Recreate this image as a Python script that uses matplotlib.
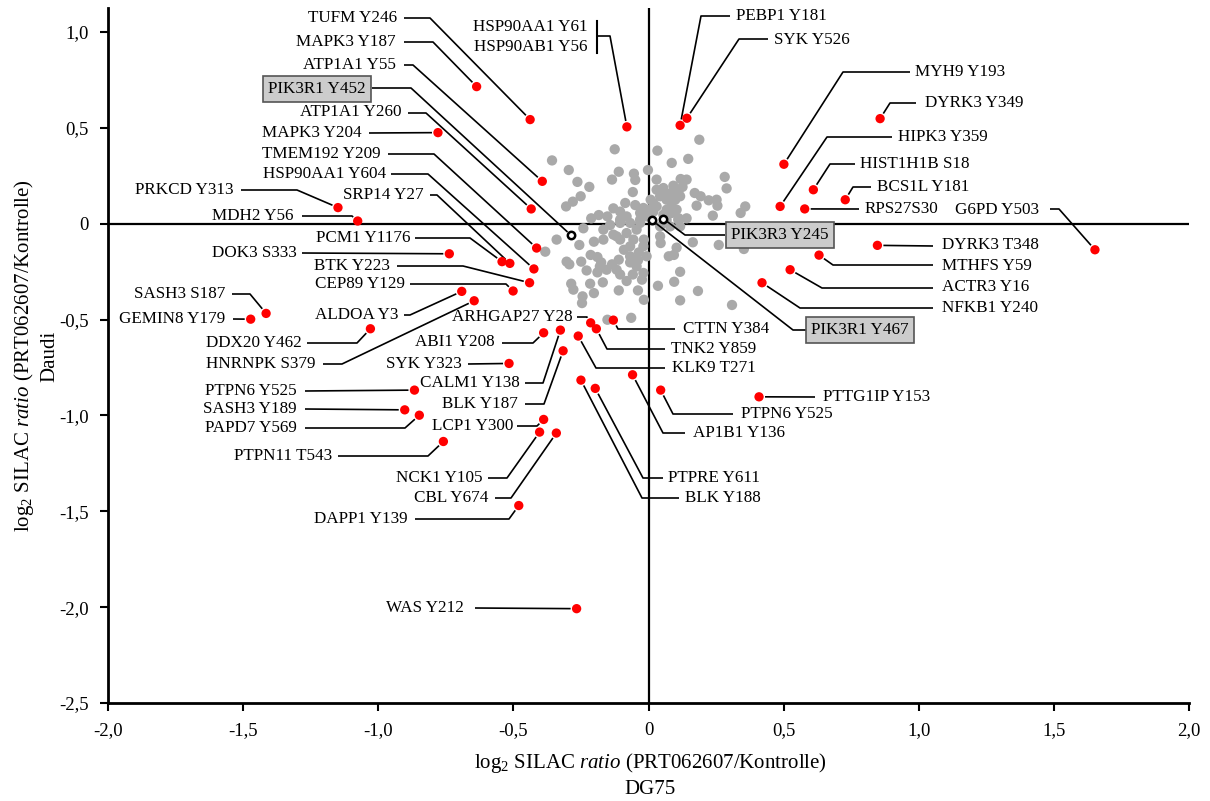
import numpy as np
import matplotlib
matplotlib.use('Agg')
import matplotlib.pyplot as plt

plt.rcParams['font.family'] = ['Liberation Serif', 'DejaVu Serif']
plt.rcParams['mathtext.fontset'] = 'custom'
plt.rcParams['mathtext.rm'] = 'Liberation Serif'
plt.rcParams['mathtext.it'] = 'Liberation Serif:italic'

# ---- data: regulated sites (red) ----
red_labels = ['TUFM Y246', 'MAPK3 Y187', 'ATP1A1 Y55', 'ATP1A1 Y260', 'MAPK3 Y204',
              'TMEM192 Y209', 'HSP90AA1 Y604', 'SRP14 Y27', 'PCM1 Y1176', 'PRKCD Y313',
              'MDH2 Y56', 'DOK3 S333', 'BTK Y223', 'CEP89 Y129', 'ALDOA Y3',
              'HNRNPK S379', 'SASH3 S187', 'GEMIN8 Y179', 'DDX20 Y462', 'PTPN6 Y525',
              'SASH3 Y189', 'PAPD7 Y569', 'PTPN11 T543', 'SYK Y323', 'ABI1 Y208',
              'CALM1 Y138', 'BLK Y187', 'LCP1 Y300', 'NCK1 Y105', 'CBL Y674',
              'DAPP1 Y139', 'WAS Y212', 'ARHGAP27 Y28', 'CTTN Y384', 'TNK2 Y859',
              'KLK9 T271', 'PTPRE Y611', 'BLK Y188', 'AP1B1 Y136', 'PTPN6 Y525',
              'PTTG1IP Y153', 'HSP90AA1 Y61|HSP90AB1 Y56', 'PEBP1 Y181', 'SYK Y526',
              'MYH9 Y193', 'DYRK3 Y349', 'HIPK3 Y359', 'HIST1H1B S18', 'BCS1L Y181',
              'RPS27S30', 'G6PD Y503', 'DYRK3 T348', 'MTHFS Y59', 'ACTR3 Y16', 'NFKB1 Y240']
red_x = [-0.438, -0.636, -0.393, -0.434, -0.779, -0.414, -0.424, -0.513, -0.542, -1.149,
         -1.076, -0.737, -0.440, -0.501, -0.691, -0.645, -1.415, -1.472, -1.029, -0.866,
         -0.902, -0.848, -0.759, -0.516, -0.388, -0.326, -0.316, -0.388, -0.403, -0.341,
         -0.480, -0.266, -0.214, -0.130, -0.193, -0.260, -0.197, -0.250, -0.059, 0.045,
         0.409, -0.080, 0.117, 0.142, 0.501, 0.857, 0.487, 0.610, 0.728, 0.578,
         1.652, 0.847, 0.631, 0.524, 0.420]
red_y = [0.543, 0.715, 0.221, 0.077, 0.475, -0.127, -0.236, -0.207, -0.198, 0.084,
         0.014, -0.157, -0.308, -0.351, -0.353, -0.402, -0.468, -0.498, -0.548, -0.868,
         -0.971, -0.999, -1.136, -0.729, -0.569, -0.555, -0.663, -1.021, -1.087, -1.092,
         -1.470, -2.008, -0.517, -0.503, -0.548, -0.586, -0.859, -0.816, -0.788, -0.868,
         -0.903, 0.505, 0.513, 0.550, 0.310, 0.548, 0.090, 0.177, 0.125, 0.077,
         -0.136, -0.113, -0.164, -0.240, -0.308]

# ---- data: highlighted PIK3 sites (open circles) ----
open_labels = ['PIK3R1 Y452', 'PIK3R1 Y467', 'PIK3R3 Y245']
open_x = [-0.286, 0.014, 0.055]
open_y = [-0.061, 0.017, 0.026]

# ---- data: all other sites (gray) ----
gray_x = [0.188, -0.125, 0.033, -0.357, 0.147, 0.086, -0.295, -0.110, -0.002, -0.054,
          -0.263, -0.135, -0.049, 0.030, -0.219, 0.119, 0.141, 0.092, 0.055, 0.126,
          0.282, 0.289, -0.058, -0.251, -0.280, -0.305, 0.171, 0.193, 0.223, 0.252,
          0.255, 0.178, 0.358, 0.341, 0.238, -0.086, -0.049, -0.130, -0.105, -0.152,
          -0.184, -0.212, -0.081, -0.031, 0.030, 0.043, 0.067, 0.099, 0.030, 0.067,
          0.104, 0.141, 0.112, 0.018, -0.241, -0.167, -0.340, -0.382, -0.256, -0.202,
          -0.167, -0.118, -0.081, -0.044, -0.017, -0.056, 0.043, 0.045, 0.164, 0.260,
          0.353, 0.104, 0.094, 0.075, -0.091, -0.036, -0.007, -0.303, -0.293, -0.249,
          -0.214, -0.189, -0.175, -0.135, -0.110, -0.068, -0.039, -0.229, -0.189, -0.169,
          -0.105, -0.081, -0.058, -0.024, -0.286, -0.216, -0.278, -0.202, -0.244, -0.246,
          -0.110, -0.039, -0.017, 0.035, 0.095, 0.117, 0.183, 0.117, 0.309, -0.064,
          -0.152, 0.008, 0.003, -0.031, -0.068, -0.105, -0.142, -0.019, -0.068, -0.105,
          0.043, 0.067, 0.080, 0.117, 0.052, 0.084, 0.117, 0.086, 0.055, -0.180,
          -0.155, -0.044, -0.019, -0.105, -0.019, -0.031, -0.007, 0.110, 0.018, 0.086,
          0.110, -0.130, -0.068, -0.118]
gray_y = [0.438, 0.388, 0.381, 0.330, 0.338, 0.317, 0.280, 0.271, 0.280, 0.261,
          0.218, 0.230, 0.228, 0.230, 0.192, 0.233, 0.230, 0.198, 0.186, 0.192,
          0.244, 0.184, 0.165, 0.143, 0.115, 0.090, 0.160, 0.143, 0.122, 0.125,
          0.094, 0.094, 0.090, 0.056, 0.042, 0.108, 0.097, 0.080, 0.063, 0.038,
          0.045, 0.028, 0.038, 0.056, 0.177, 0.143, 0.125, 0.125, 0.090, 0.073,
          0.073, 0.028, 0.028, 0.063, -0.024, -0.031, -0.083, -0.146, -0.111, -0.094,
          -0.083, -0.066, -0.049, -0.031, -0.083, -0.083, -0.066, -0.101, -0.097, -0.111,
          -0.132, -0.125, -0.163, -0.170, -0.136, -0.150, -0.170, -0.198, -0.212, -0.198,
          -0.163, -0.174, -0.202, -0.212, -0.188, -0.202, -0.191, -0.244, -0.254, -0.306,
          -0.265, -0.299, -0.265, -0.292, -0.313, -0.313, -0.344, -0.362, -0.379, -0.414,
          -0.348, -0.348, -0.397, -0.324, -0.303, -0.251, -0.351, -0.400, -0.424, -0.491,
          -0.501, 0.125, 0.073, 0.004, 0.004, 0.004, -0.007, -0.118, -0.118, -0.083,
          -0.014, 0.021, -0.014, -0.014, 0.160, 0.160, 0.143, 0.090, 0.047, -0.223,
          -0.240, -0.223, -0.257, 0.021, 0.082, 0.021, 0.038, 0.160, 0.108, 0.056,
          0.021, -0.057, -0.170, -0.240]

xticks = [-2.0, -1.5, -1.0, -0.5, 0.0, 0.5, 1.0, 1.5, 2.0]
yticks = [-2.5, -2.0, -1.5, -1.0, -0.5, 0.0, 0.5, 1.0]

# ---- label layout, in pixels of the 1210x801 canvas (top-left origin) ----
# (text x, text y, alignment, leader vertices from text side towards the point)
red_layout = [
    (397, 18, 'right', [(404, 18), (430, 18)]),
    (396, 42, 'right', [(404, 42), (433, 42)]),
    (396, 65, 'right', [(404, 65), (413, 65)]),
    (402, 112, 'right', [(408, 113), (426, 113)]),
    (362, 133, 'right', [(369, 133)]),
    (381, 154, 'right', [(388, 154), (434, 154)]),
    (386, 174, 'right', [(391, 174), (428, 174)]),
    (424, 195, 'right', [(430, 195), (437, 195)]),
    (410, 238, 'right', [(415, 238), (470, 238)]),
    (233, 190, 'right', [(241, 190), (297, 190)]),
    (293, 216, 'right', [(302, 216), (352, 216)]),
    (297, 253, 'right', [(302, 253)]),
    (390, 266, 'right', [(397, 266), (463, 266)]),
    (405, 284, 'right', [(410, 284), (506, 284)]),
    (398, 315, 'right', [(404, 315), (410, 315)]),
    (315, 364, 'right', [(323, 364), (342, 364)]),
    (225, 294, 'right', [(232, 294), (250, 294)]),
    (225, 319, 'right', [(233, 319)]),
    (302, 343, 'right', [(307, 343), (357, 343)]),
    (297, 391, 'right', [(305, 391)]),
    (297, 409, 'right', [(305, 409)]),
    (297, 428, 'right', [(305, 428), (405, 428)]),
    (332, 456, 'right', [(338, 456), (428, 456)]),
    (462, 364, 'right', [(468, 364)]),
    (495, 342, 'right', [(502, 343), (533, 343)]),
    (520, 383, 'right', [(525, 383), (543, 383)]),
    (518, 404, 'right', [(525, 404), (544, 404)]),
    (513, 426, 'right', [(517, 426), (537, 426)]),
    (483, 478, 'right', [(488, 478), (507, 478)]),
    (488, 498, 'right', [(495, 498), (511, 498)]),
    (408, 519, 'right', [(415, 519), (509, 519)]),
    (464, 608, 'right', [(475, 608)]),
    (573, 317, 'right', [(577, 317), (587, 317)]),
    (683, 329, 'left', [(675, 329), (618, 329)]),
    (671, 349, 'left', [(665, 349), (607, 349)]),
    (672, 368, 'left', [(665, 368), (596, 368)]),
    (668, 478, 'left', [(663, 478), (643, 478)]),
    (685, 498, 'left', [(679, 498), (642, 498)]),
    (693, 433, 'left', [(685, 433), (663, 433)]),
    (741, 414, 'left', [(733, 414), (673, 414)]),
    (823, 397, 'left', [(815, 397)]),
    (588, 37, 'right', [(597, 36), (610, 36)]),
    (736, 16, 'left', [(730, 16), (701, 16)]),
    (774, 40, 'left', [(768, 39), (739, 39)]),
    (915, 72, 'left', [(910, 72), (843, 72)]),
    (925, 103, 'left', [(916, 103), (890, 103)]),
    (898, 137, 'left', [(892, 137), (827, 137)]),
    (860, 164, 'left', [(855, 164), (830, 164)]),
    (877, 187, 'left', [(871, 187), (853, 187)]),
    (865, 209, 'left', [(859, 209)]),
    (1039, 210, 'right', [(1050, 209), (1059, 209)]),
    (942, 245, 'left', [(933, 246)]),
    (942, 266, 'left', [(933, 265), (833, 265)]),
    (942, 287, 'left', [(933, 288), (822, 288)]),
    (942, 308, 'left', [(933, 308), (800, 308)]),
]
open_layout = [
    (317, 89, [(372, 88), (411, 88)]),
    (860, 330, [(806, 330), (793, 330)]),
    (780, 235, [(725, 235), (685, 235)]),
]

W, H = 1210, 801
fig = plt.figure(figsize=(W / 100, H / 100), dpi=100)
ax = fig.add_axes([108 / W, 1 - 703 / H, (1189 - 108) / W, (703 - 8) / H])
ax.set_xlim(-2.0, 2.0)
ax.set_ylim(-2.5, 1.125)

for s in ['top', 'right']:
    ax.spines[s].set_visible(False)
for s in ['left', 'bottom']:
    ax.spines[s].set_linewidth(2)
ax.axhline(0, color='black', lw=1.6, zorder=1)
ax.axvline(0, color='black', lw=1.6, zorder=1)

fmt = lambda v: '0' if v == 0 else ('%.1f' % v).replace('.', ',')
ax.set_xticks(xticks)
ax.set_xticklabels([fmt(v) for v in xticks])
ax.set_yticks(yticks)
ax.set_yticklabels([fmt(v) for v in yticks])
ax.tick_params(direction='out', length=6, width=1.5, labelsize=13.5, pad=8)


def to_data(p):
    return ax.transData.inverted().transform((p[0], H - p[1]))


def leader(path, pt, gap=6):
    disp = [np.array((p[0], H - p[1]), float) for p in path]
    end = ax.transData.transform(pt)
    d = end - disp[-1]
    n = np.hypot(*d)
    if n > gap:
        end = end - d / n * gap
    disp.append(end)
    xy = ax.transData.inverted().transform(np.array(disp))
    ax.plot(xy[:, 0], xy[:, 1], color='black', lw=1.2, zorder=3,
            clip_on=False, solid_capstyle='butt')


ax.scatter(gray_x, gray_y, s=55, color='#a9a9a9', edgecolors='none', zorder=2)
ax.scatter(red_x, red_y, s=45, color='#ff0000', edgecolors='none', zorder=5)
ax.scatter(open_x, open_y, s=28, facecolors='white', edgecolors='black',
           linewidths=1.8, zorder=6)

lab_fs = 12.3
for lab, x, y, (tx, ty, ha, path) in zip(red_labels, red_x, red_y, red_layout):
    if '|' in lab:
        top, bot = lab.split('|')
        ax.text(*to_data((tx, ty - 10)), top, ha='right', va='center', fontsize=lab_fs)
        ax.text(*to_data((tx, ty + 10)), bot, ha='right', va='center', fontsize=lab_fs)
        b = np.array([to_data((597, 21)), to_data((597, 53))])
        ax.plot(b[:, 0], b[:, 1], color='black', lw=1.5, zorder=3)
    else:
        ax.text(*to_data((tx, ty)), lab, ha=ha, va='center', fontsize=lab_fs)
    leader(path, (x, y))

for lab, x, y, (tx, ty, path) in zip(open_labels, open_x, open_y, open_layout):
    ax.text(*to_data((tx, ty)), lab, ha='center', va='center', fontsize=lab_fs,
            bbox=dict(boxstyle='square,pad=0.3', fc='#cccccc', ec='#555555', lw=1.2),
            zorder=7)
    leader(path, (x, y), gap=5)

fig.text(650 / W, 1 - 763 / H, r'log$_2$ SILAC $\it{ratio}$ (PRT062607/Kontrolle)',
         ha='center', va='center', fontsize=15)
fig.text(650 / W, 1 - 790 / H, 'DG75', ha='center', va='center', fontsize=15)
fig.text(24 / W, 1 - 356 / H, r'log$_2$ SILAC $\it{ratio}$ (PRT062607/Kontrolle)',
         ha='center', va='center', rotation=90, fontsize=15)
fig.text(50 / W, 1 - 356 / H, 'Daudi', ha='center', va='center', rotation=90, fontsize=15)

plt.savefig('out.png', dpi=100)
